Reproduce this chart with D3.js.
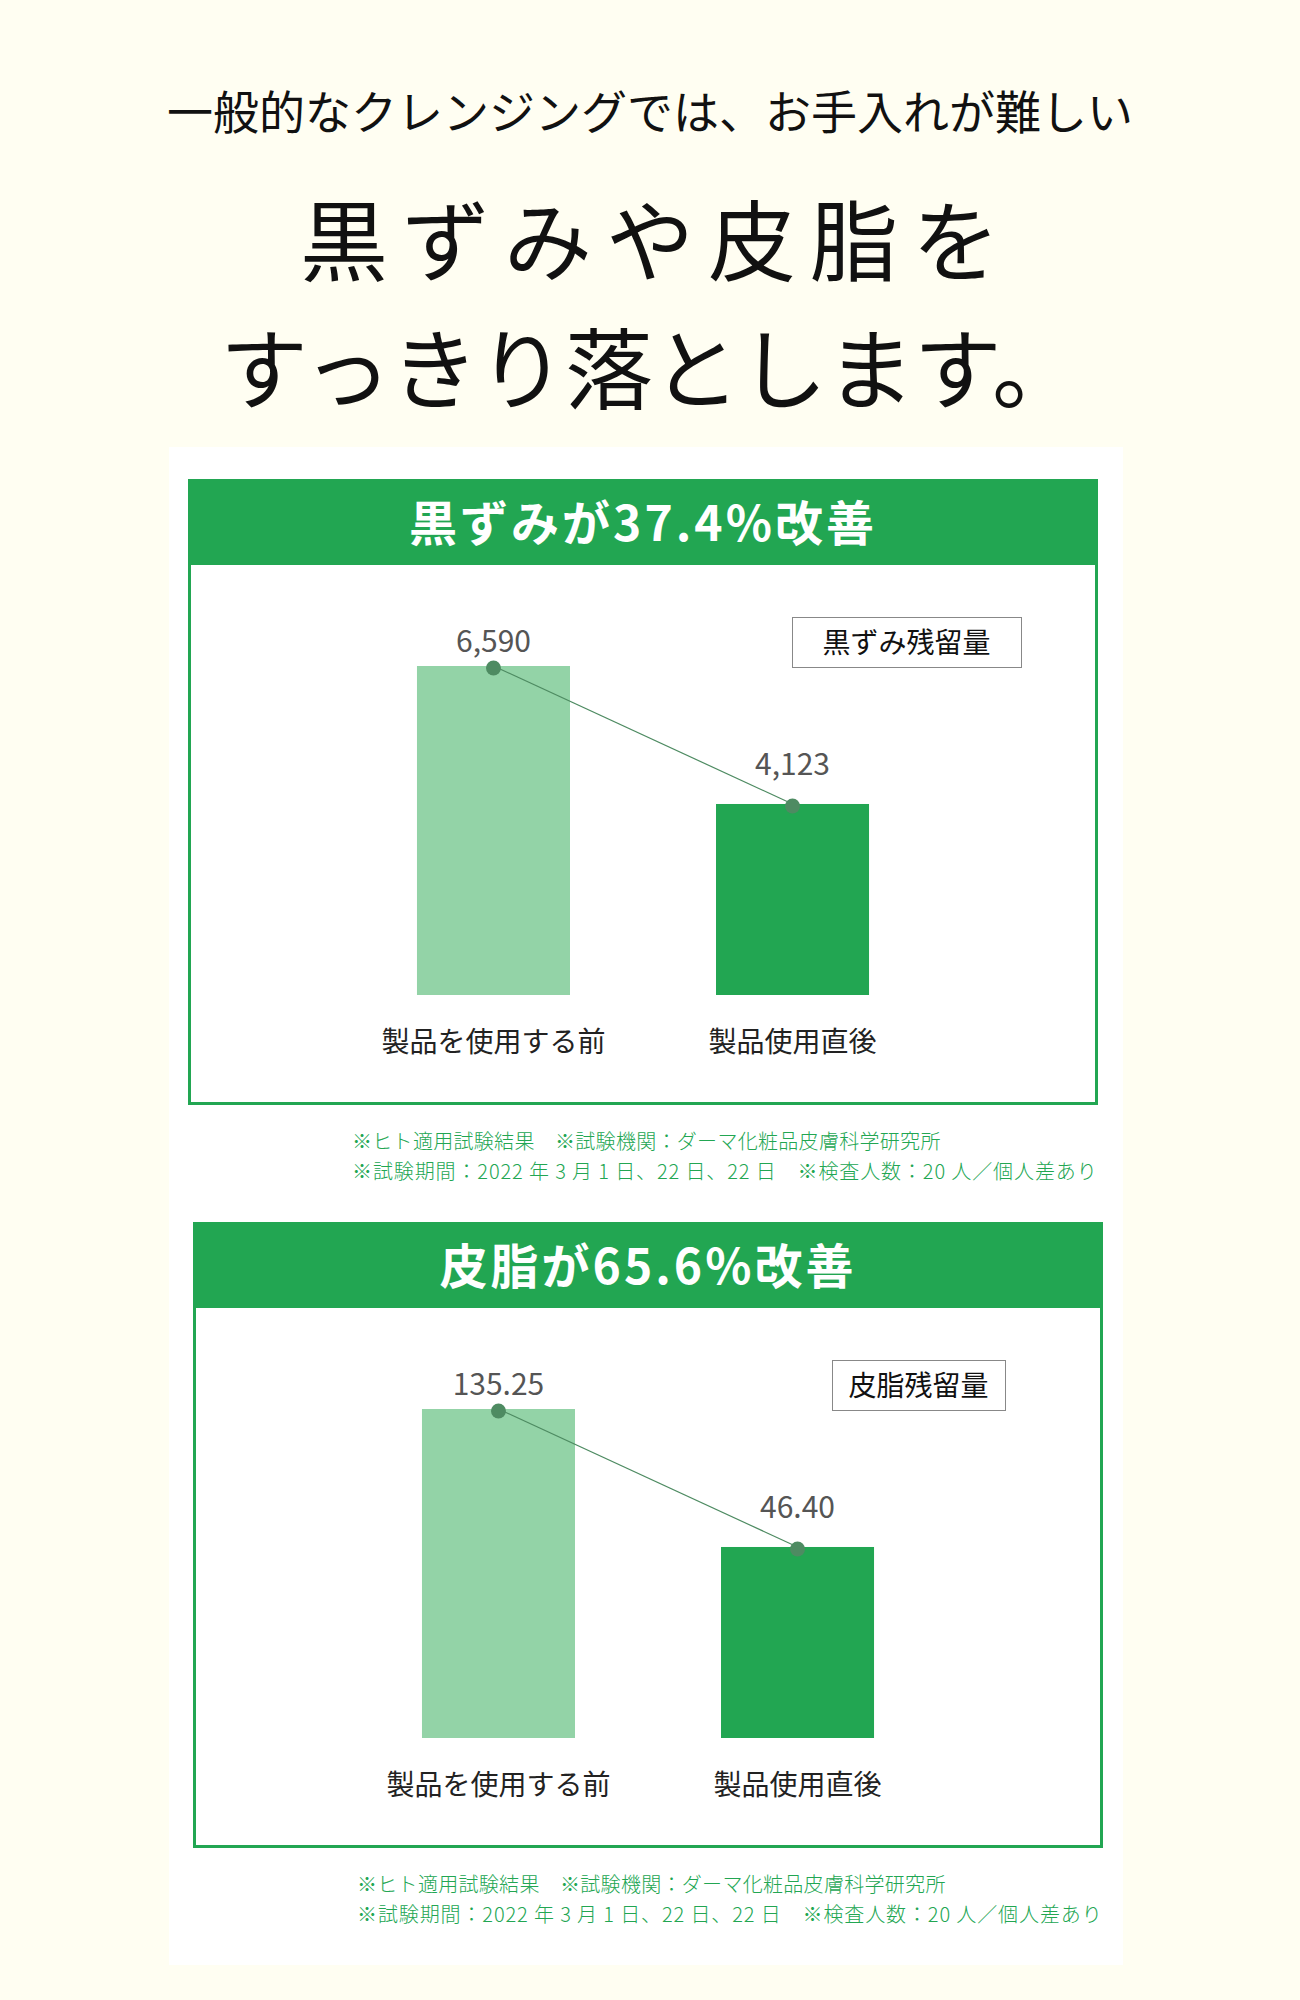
<!DOCTYPE html>
<html lang="ja">
<head>
<meta charset="utf-8">
<script src="https://cdn.jsdelivr.net/npm/d3@7"></script>
<style>
  html, body { margin: 0; padding: 0; background: #fffef2; }
  svg { display: block; font-family: "Noto Sans CJK JP", "Noto Sans", sans-serif; }
</style>
</head>
<body>
<div id="chart"></div>
<script>
// data
const categories = ['製品を使用する前', '製品使用直後'];
const darkSpotValues = [6590, 4123];
const sebumValues = [135.25, 46.40];
const chartTitles = ['黒ずみが37.4%改善', '皮脂が65.6%改善'];
const legendLabels = ['黒ずみ残留量', '皮脂残留量'];
const noteLines = [
  '※ヒト適用試験結果　※試験機関：ダーマ化粧品皮膚科学研究所',
  '※試験期間：2022 年 3 月 1 日、22 日、22 日　※検査人数：20 人／個人差あり'
];
const subTitle = '一般的なクレンジングでは、お手入れが難しい';
const headLines = ['黒ずみや皮脂を', 'すっきり落とします。'];

const GREEN = '#22a652';
const LIGHT = '#93d3a7';
const DOT = '#4e8b62';

const svg = d3.select('#chart').append('svg')
    .attr('width', 1300)
    .attr('height', 2000);

svg.append('rect')
    .attr('width', 1300)
    .attr('height', 2000)
    .attr('fill', '#fffef2');

// headings
svg.append('text')
    .attr('x', 650)
    .attr('y', 129)
    .attr('text-anchor', 'middle')
    .attr('font-size', 46)
    .attr('fill', '#111')
    .text(subTitle);

svg.selectAll('.headline')
    .data(headLines)
  .enter().append('text')
    .attr('class', 'headline')
    .attr('x', 650)
    .attr('y', (d, i) => 274 + i * 128)
    .attr('text-anchor', 'middle')
    .attr('font-size', 88)
    .attr('font-weight', 400)
    .attr('fill', '#111')
    .attr('textLength', (d, i) => (i ? 860 : 700))
    .attr('lengthAdjust', 'spacing')
    .text(d => d);

// white panel
svg.append('rect')
    .attr('x', 169)
    .attr('y', 447)
    .attr('width', 954)
    .attr('height', 1518)
    .attr('fill', '#fff');

function barPanel(opts) {
  const width = 910;
  const height = 626;
  const g = svg.append('g')
      .attr('transform', `translate(${opts.left}, ${opts.top})`);

  const x = d3.scaleBand()
      .domain(categories)
      .range([156, 754])
      .paddingInner(0.4883)
      .paddingOuter(0.244);

  // baseline is not zero in the original artwork
  const y = d3.scaleLinear()
      .domain([opts.floor, d3.max(opts.values)])
      .range([516, 187]);

  // frame + header
  g.append('rect')
      .attr('x', 1.5)
      .attr('y', 1.5)
      .attr('width', width - 3)
      .attr('height', height - 3)
      .attr('fill', '#fff')
      .attr('stroke', GREEN)
      .attr('stroke-width', 3);

  g.append('rect')
      .attr('width', width)
      .attr('height', 86)
      .attr('fill', GREEN);

  g.append('text')
      .attr('x', width / 2)
      .attr('y', 62)
      .attr('text-anchor', 'middle')
      .attr('font-size', 48)
      .attr('font-weight', 700)
      .attr('letter-spacing', 3)
      .attr('fill', '#fff')
      .text(opts.title);

  const rows = categories.map((c, i) => ({ c, v: opts.values[i], i }));

  // bars
  g.selectAll('.bar')
      .data(rows)
    .enter().append('rect')
      .attr('class', 'bar')
      .attr('x', d => x(d.c))
      .attr('y', d => y(d.v))
      .attr('width', x.bandwidth())
      .attr('height', d => y(opts.floor) - y(d.v))
      .attr('fill', d => (d.i ? GREEN : LIGHT));

  // connecting line
  const cx = d => x(d.c) + x.bandwidth() / 2;
  g.append('path')
      .datum(rows)
      .attr('fill', 'none')
      .attr('stroke', DOT)
      .attr('stroke-width', 1.2)
      .attr('d', d3.line().x(cx).y(d => y(d.v)));

  g.selectAll('.dot')
      .data(rows)
    .enter().append('circle')
      .attr('class', 'dot')
      .attr('cx', cx)
      .attr('cy', d => y(d.v) + 2)
      .attr('r', 7.5)
      .attr('fill', DOT);

  // value labels
  const labelGap = [14, 29];
  g.selectAll('.val')
      .data(rows)
    .enter().append('text')
      .attr('class', 'val')
      .attr('x', cx)
      .attr('y', d => y(d.v) - labelGap[d.i])
      .attr('text-anchor', 'middle')
      .attr('font-size', 30)
      .attr('fill', '#555')
      .text(d => opts.format(d.v));

  // category labels
  g.selectAll('.cat')
      .data(rows)
    .enter().append('text')
      .attr('class', 'cat')
      .attr('x', cx)
      .attr('y', 573)
      .attr('text-anchor', 'middle')
      .attr('font-size', 28)
      .attr('fill', '#222')
      .text(d => d.c);

  // legend box
  const legend = g.append('g')
      .attr('transform', `translate(${opts.legendX}, 138)`);
  legend.append('rect')
      .attr('x', 0.5)
      .attr('y', 0.5)
      .attr('width', opts.legendW)
      .attr('height', 50)
      .attr('fill', '#fff')
      .attr('stroke', '#888');
  legend.append('text')
      .attr('x', opts.legendW / 2)
      .attr('y', 36)
      .attr('text-anchor', 'middle')
      .attr('font-size', 28)
      .attr('fill', '#111')
      .text(opts.legend);

  // notes
  g.selectAll('.note')
      .data(noteLines)
    .enter().append('text')
      .attr('class', 'note')
      .attr('x', 164)
      .attr('y', (d, i) => 670 + i * 30)
      .attr('font-size', 20)
      .attr('font-weight', 300)
      .attr('letter-spacing', 0.3)
      .attr('fill', GREEN)
      .attr('textLength', (d, i) => (i ? 745 : null))
      .attr('lengthAdjust', 'spacing')
      .text(d => d);
}

barPanel({
  left: 188, top: 479,
  values: darkSpotValues, floor: 708,
  title: chartTitles[0], legend: legendLabels[0],
  legendX: 604, legendW: 229,
  format: d3.format(',')
});

barPanel({
  left: 193, top: 1222,
  values: sebumValues, floor: -76.6,
  title: chartTitles[1], legend: legendLabels[1],
  legendX: 639, legendW: 173,
  format: d3.format('.2f')
});
</script>
</body>
</html>
